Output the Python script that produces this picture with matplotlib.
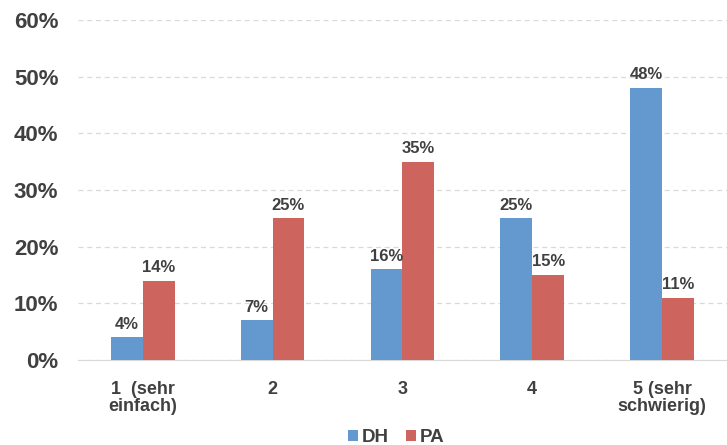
import matplotlib
matplotlib.use("Agg")
import matplotlib.pyplot as plt
import numpy as np

categories = ["1  (sehr\neinfach)", "2", "3", "4", "5 (sehr\nschwierig)"]
dh = [4, 7, 16, 25, 48]
pa = [14, 25, 35, 15, 11]
series_names = ["DH", "PA"]
yticks = [0, 10, 20, 30, 40, 50, 60]

plt.rcParams['font.family'] = ['Liberation Sans', 'DejaVu Sans']
txt = '#404040'
blue = '#6399CE'
red = '#CD645E'

fig = plt.figure(figsize=(7.27, 4.45), dpi=100)
ax = fig.add_axes([0.107, 0.191, 0.893, 0.764])
x = np.arange(len(categories))
w = 0.245
b1 = ax.bar(x - w/2, dh, w, color=blue, label=series_names[0], zorder=3)
b2 = ax.bar(x + w/2, pa, w, color=red, label=series_names[1], zorder=3)
for bars, vals in ((b1, dh), (b2, pa)):
    for r, v in zip(bars, vals):
        ax.annotate(f"{v}%", (r.get_x() + r.get_width()/2, v), xytext=(0, 4),
                    textcoords='offset points', ha='center', va='bottom',
                    fontsize=12, fontweight='bold', color=txt)
ax.set_ylim(0, 60)
ax.set_xlim(-0.5, len(categories) - 0.5)
ax.set_yticks(yticks)
ax.set_yticklabels([f"{t}%" for t in yticks], fontsize=16, fontweight='bold', color=txt)
ax.set_xticks(x)
ax.set_xticklabels(categories, fontsize=13, fontweight='bold', color=txt, linespacing=1.05)
ax.yaxis.grid(True, color='#D9D9D9', linestyle=(0, (4, 3)), linewidth=0.9, zorder=0)
for s in ['top', 'right', 'left']:
    ax.spines[s].set_visible(False)
ax.spines['bottom'].set_color('#D9D9D9')
ax.tick_params(axis='both', length=0)
ax.tick_params(axis='y', pad=14)
ax.tick_params(axis='x', pad=15)
leg = fig.legend(loc='lower center', bbox_to_anchor=(0.545, -0.04), ncol=2, frameon=False,
                 prop={'weight': 'bold', 'size': 13.5}, handlelength=0.55, handleheight=0.55,
                 handletextpad=0.2, columnspacing=0.9)
for t in leg.get_texts():
    t.set_color(txt)
fig.savefig('out.png', dpi=100)
